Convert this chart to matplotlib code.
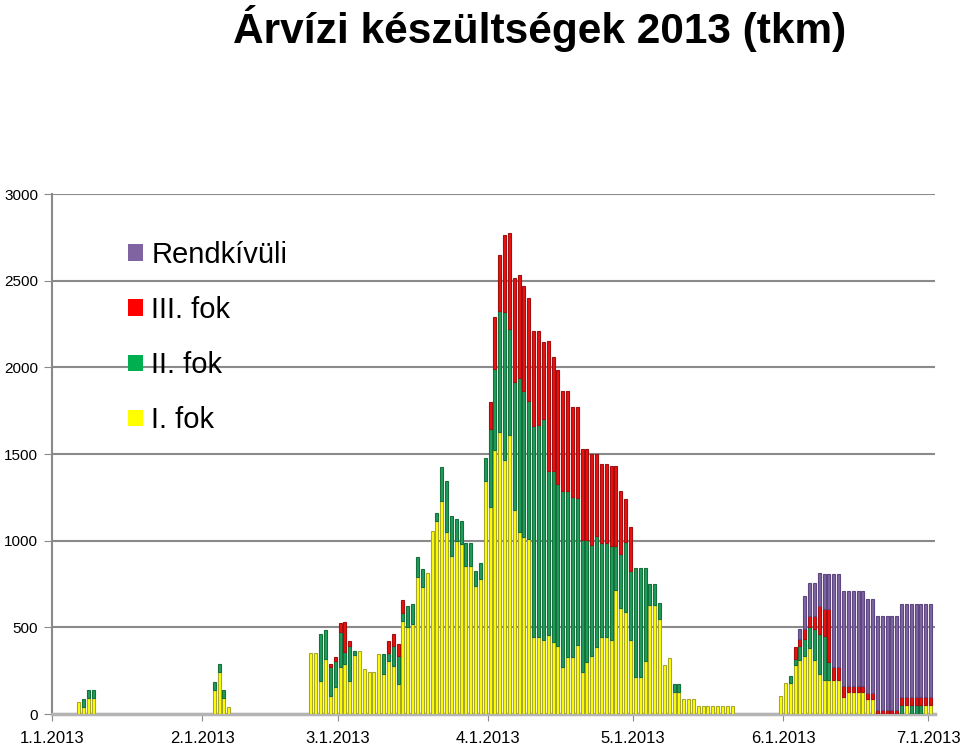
# -*- coding: utf-8 -*-
# Árvízi készültségek 2013 - napi halmozott oszlopdiagram

import numpy as np
import pandas as pd
import matplotlib
matplotlib.use('Agg')
import matplotlib.pyplot as plt
from matplotlib.patches import Patch

# ---------------------------------------------------------------
# ADATOK (tkm, naponta 2013.01.01 - 2013.07.01)

start_date = '2013-01-01'
end_date = '2013-07-01'

fok_1 = ([0] * 5 + [67, 42, 90, 90] + [0] * 24 + [138, 242, 90, 38] + [0] * 16 +
         [352, 352, 192, 317, 106, 154, 273, 288, 192, 340, 365, 260, 240, 240,
          346, 231, 308, 279, 173, 538, 502, 519, 788, 731, 813, 1058, 1115,
          1231, 1052, 913, 1000, 981, 856, 856, 737, 779, 1346] +
         [1196, 1523, 1625, 1465, 1610, 1179, 1048, 1023, 1010, 442, 442, 427,
          458, 413, 394, 269, 327, 331, 400, 240, 298, 337, 388, 442, 442, 427,
          715, 612, 587, 427] +
         [215, 215, 308, 629, 629, 548, 281, 325, 125, 125, 85, 85, 85] + [46] * 8 +
         [0] * 9 +
         [105, 176, 180, 285, 310, 335, 380, 310, 230, 198, 198, 198, 198, 96,
          129, 129, 129, 129, 85, 85] + [0] * 5 + [0, 54, 0, 0, 0, 54, 54])

fok_2 = ([0] * 5 + [0, 44, 48, 48] + [0] * 24 + [46, 45, 48, 0] + [0] * 16 +
         [0, 0, 270, 168, 163, 154, 198, 68, 202, 25, 0, 0, 0, 0, 0, 115, 44,
          111, 160, 47, 121, 116, 116, 106, 0, 0, 45, 192, 294, 231, 125, 131,
          129, 129, 90, 92, 131] +
         [448, 467, 698, 852, 611, 734, 890, 842, 798, 1221, 1227, 1275, 946,
          987, 933, 1019, 958, 923, 846, 764, 706, 640, 641, 543, 543, 544, 256,
          311, 403, 400] +
         [629, 629, 536, 119, 119, 90, 0, 0, 46, 46, 0, 0, 0] + [0] * 8 +
         [0] * 9 +
         [0, 0, 38, 32, 80, 100, 120, 180, 232, 254, 100, 0, 0, 0, 0, 0, 0, 0,
          0, 0] + [0] * 5 + [54, 0, 54, 54, 54, 0, 0])

fok_3 = ([0] * 53 +
         [0, 0, 0, 0, 19, 23, 52, 173, 27, 0, 0, 0, 0, 0, 0, 0, 71, 72, 71, 73] +
         [0] * 17 +
         [154, 298, 325, 446, 554, 602, 595, 606, 592, 545, 539, 442, 750, 662,
          658, 577, 580, 515, 523, 525, 525, 523, 471, 457, 457, 462, 462, 365,
          250, 250] +
         [0] * 30 +
         [0, 0, 0, 68, 45, 55, 63, 73, 161, 154, 308, 71, 71, 67, 34, 34, 34,
          34, 37, 37] + [25] * 5 + [42] * 7)

rendkivuli = ([0] * 154 +
              [55, 193, 195, 195, 193, 200, 200, 537, 537, 546, 546, 546, 546,
               546, 540, 540, 542, 542, 542, 542, 542, 539, 539, 539, 539, 539,
               539, 539])

series = [
    ('I. fok', fok_1, '#ffff00', '#a6a630'),
    ('II. fok', fok_2, '#1f9e58', '#15703e'),
    ('III. fok', fok_3, '#ee1111', '#a01010'),
    ('Rendkívüli', rendkivuli, '#8064a2', '#5c4780'),
]
legend_colors = {'Rendkívüli': '#8064a2', 'III. fok': '#ff0000',
                 'II. fok': '#00b050', 'I. fok': '#ffff00'}

# ---------------------------------------------------------------
# RAJZ

plt.rcParams['font.family'] = ['Liberation Sans', 'DejaVu Sans']

days = pd.date_range(start_date, end_date, freq='D')
x = np.arange(len(days)) + 0.5
month_starts = [i for i, d in enumerate(days) if d.day == 1]
month_labels = ['%d.1.%d' % (days[i].month, days[i].year) for i in month_starts]

fig = plt.figure(figsize=(9.6, 7.46), dpi=100)
ax = fig.add_axes([52 / 960, 32 / 746, 883 / 960, 520 / 746])

# nulla értékű napok szürke szegélye
ax.bar(x, np.zeros(len(x)), width=0.62, bottom=0, color='none',
       edgecolor='#6a6a6a', linewidth=1.4, zorder=2)

bottom = np.zeros(len(x))
for name, vals, fc, ec in series:
    vals = np.array(vals, dtype=float)
    mask = vals > 0
    ax.bar(x[mask], vals[mask], width=0.62, bottom=bottom[mask], color=fc,
           edgecolor=ec, linewidth=0.8, zorder=3)
    bottom += vals

ax.set_xlim(0, 182.4)
ax.set_ylim(0, 3000)
ax.set_yticks(range(0, 3001, 500))
ax.set_xticks(month_starts)
ax.set_xticklabels(month_labels, fontsize=12)
ax.tick_params(axis='y', labelsize=11, length=6, color='#8a8a8a', pad=4)
ax.tick_params(axis='x', length=5, color='#8a8a8a', pad=7)

ax.yaxis.grid(True, color='#8a8a8a', linewidth=1.5)
ax.set_axisbelow(True)
for s in ['top', 'right']:
    ax.spines[s].set_visible(False)
ax.spines['left'].set_color('#8a8a8a')
ax.spines['left'].set_linewidth(1.5)
ax.spines['bottom'].set_color('#b4b4b4')
ax.spines['bottom'].set_linewidth(2.5)

handles = [Patch(facecolor=legend_colors[n], edgecolor='none', label=n)
           for n in ['Rendkívüli', 'III. fok', 'II. fok', 'I. fok']]
fig.legend(handles=handles, loc='upper left',
           bbox_to_anchor=(128 / 960, 1 - 241 / 746), frameon=False,
           fontsize=21, handlelength=0.5, handleheight=0.5,
           handletextpad=0.3, labelspacing=0.93, borderpad=0,
           borderaxespad=0)

fig.text(540 / 960, 1 - 28 / 746, 'Árvízi készültségek 2013 (tkm)',
         fontsize=30.5, fontweight='bold', ha='center', va='center')

fig.savefig('out.png', dpi=100)
